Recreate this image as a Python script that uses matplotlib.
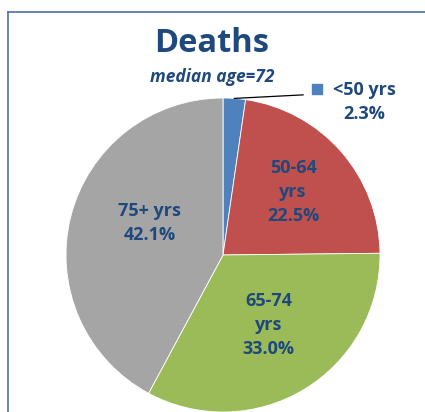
import numpy as np
import matplotlib.pyplot as plt
from matplotlib.lines import Line2D

# Data
groups = ['<50 yrs', '50-64\nyrs', '65-74\nyrs', '75+ yrs']
shares = [2.3, 22.5, 33.0, 42.1]
colors = ['#4F81BD', '#C0504D', '#9BBB59', '#A5A5A5']

TEXT = '#1F497D'
plt.rcParams['font.family'] = ['Open Sans', 'DejaVu Sans']

fig = plt.figure(figsize=(4.25, 4.12), dpi=100)

# pie axes: centre ~ (223, 255) px from top-left, radius ~157 px
W, H = 425, 412
cx, cy, r = 223, 255, 157
ax = fig.add_axes([(cx - r) / W, (H - cy - r) / H, 2 * r / W, 2 * r / H])
ax.axis('off')

wedges, _ = ax.pie(shares, colors=colors, startangle=90, counterclock=False,
                   radius=1, wedgeprops=dict(edgecolor='white', linewidth=0.6))
ax.set_xlim(-1, 1)
ax.set_ylim(-1, 1)

# inside labels (angle offset from wedge mid, distance from centre)
label_pos = {1: (0.8, 0.60), 2: (2, 0.534), 3: (-9.6, 0.51)}
for i, (da, dist) in label_pos.items():
    w = wedges[i]
    ang = np.deg2rad((w.theta1 + w.theta2) / 2 + da)
    ax.text(dist * np.cos(ang), dist * np.sin(ang),
            f"{groups[i]}\n{shares[i]:.1f}%", ha='center', va='center',
            color=TEXT, fontsize=13, fontweight='bold', linespacing=1.42)

# small slice: leader line + square marker + outside label
w0 = wedges[0]
a0 = np.deg2rad((w0.theta1 + w0.theta2) / 2)
ax.plot([np.cos(a0), 0.51], [np.sin(a0), 1.02], color='black', lw=0.9, clip_on=False)
ax.scatter([0.60], [1.06], marker='s', s=60, color=colors[0], clip_on=False)
ax.text(0.90, 0.975, f"{groups[0]}\n{shares[0]:.1f}%", ha='center', va='center',
        color=TEXT, fontsize=13, fontweight='bold', linespacing=1.42)

# title and subtitle
fig.text(212 / W, 1 - 44 / H, 'Deaths', ha='center', va='center',
         color=TEXT, fontsize=23.5, fontweight='bold')
fig.text(212 / W, 1 - 77 / H, 'median age=72', ha='center', va='center',
         color=TEXT, fontsize=12.5, fontweight='bold', style='italic')

# chart border (top and left edges)
fig.add_artist(Line2D([8 / W, 8 / W], [0, 1 - 12 / H], color='#4A6FA5', lw=1.2))
fig.add_artist(Line2D([8 / W, 1], [1 - 12 / H, 1 - 12 / H], color='#4A6FA5', lw=1.2))

fig.savefig('out.png', dpi=100)
